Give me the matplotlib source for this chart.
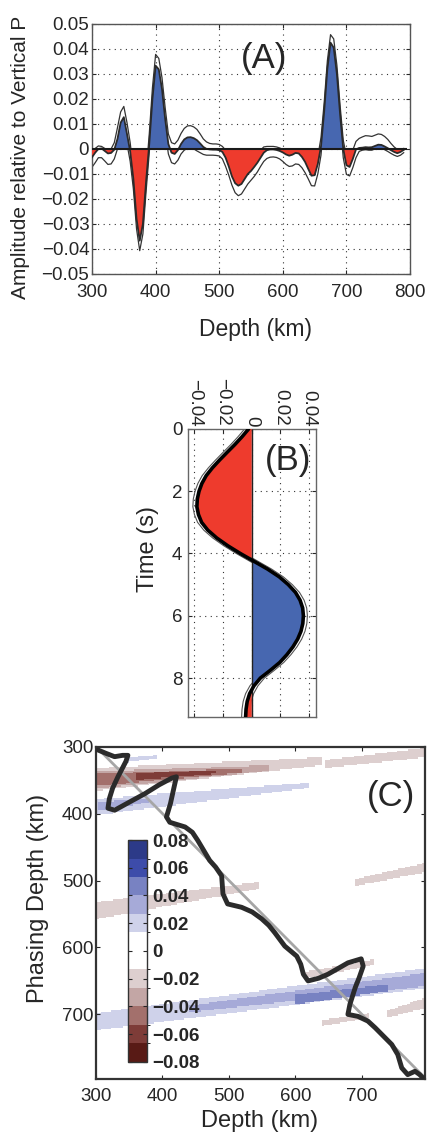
import numpy as np
import matplotlib
matplotlib.use("Agg")
import matplotlib.pyplot as plt
from matplotlib.colors import ListedColormap, BoundaryNorm
from matplotlib.ticker import FuncFormatter

plt.rcParams['font.family'] = ['Liberation Sans', 'DejaVu Sans']

RED = '#EE3B2D'
BLUE = '#4767B0'
TEXT = '#262626'

# ---------------- panel A: receiver function vs depth ----------------
a_depth = np.arange(300, 791, 5)
a_amp = [
    -0.0033, -0.0015, 0.0000, 0.0002, -0.0008, -0.0018, -0.0016, -0.0003, 0.0040, 0.0105,
    0.0127, 0.0060, -0.0010, -0.0120, -0.0280, -0.0367, -0.0300, -0.0130, 0.0020, 0.0200,
    0.0333, 0.0318, 0.0240, 0.0120, 0.0020, -0.0015, -0.0020, -0.0005, 0.0020, 0.0038,
    0.0046, 0.0047, 0.0043, 0.0035, 0.0022, 0.0008, 0.0000, -0.0002, -0.0003, -0.0003,
    -0.0005, -0.0012, -0.0035, -0.0070, -0.0110, -0.0137, -0.0147, -0.0140, -0.0120, -0.0100,
    -0.0088, -0.0072, -0.0055, -0.0035, -0.0015, -0.0005, -0.0002, -0.0002, -0.0004, -0.0008,
    -0.0014, -0.0022, -0.0027, -0.0023, -0.0016, -0.0018, -0.0032, -0.0052, -0.0080, -0.0107,
    -0.0105, -0.0060, 0.0010, 0.0150, 0.0320, 0.0425, 0.0405, 0.0300, 0.0140, 0.0000,
    -0.0065, -0.0072, -0.0040, -0.0002, 0.0004, 0.0005, 0.0007, 0.0006, 0.0007, 0.0012,
    0.0017, 0.0016, 0.0010, 0.0003, -0.0005, -0.0012, -0.0017, -0.0012, -0.0004,
]
a_upper = [
    -0.0013, 0.0002, 0.0012, 0.0010, 0.0002, -0.0005, 0.0000, 0.0025, 0.0085, 0.0148,
    0.0170, 0.0105, 0.0025, -0.0085, -0.0245, -0.0330, -0.0265, -0.0095, 0.0060, 0.0245,
    0.0378, 0.0362, 0.0285, 0.0165, 0.0060, 0.0025, 0.0020, 0.0035, 0.0062, 0.0082,
    0.0092, 0.0093, 0.0088, 0.0078, 0.0060, 0.0040, 0.0028, 0.0022, 0.0020, 0.0020,
    0.0018, 0.0010, -0.0005, -0.0035, -0.0075, -0.0100, -0.0110, -0.0105, -0.0085, -0.0065,
    -0.0052, -0.0038, -0.0022, -0.0005, 0.0008, 0.0010, 0.0010, 0.0010, 0.0008, 0.0004,
    -0.0002, -0.0008, -0.0012, -0.0010, -0.0004, -0.0006, -0.0016, -0.0030, -0.0050, -0.0075,
    -0.0075, -0.0030, 0.0045, 0.0185, 0.0352, 0.0457, 0.0440, 0.0335, 0.0175, 0.0035,
    -0.0030, -0.0038, -0.0005, 0.0030, 0.0042, 0.0048, 0.0053, 0.0052, 0.0050, 0.0055,
    0.0060, 0.0058, 0.0050, 0.0038, 0.0022, 0.0008, -0.0002, -0.0002, 0.0002,
]
a_lower = [
    -0.0073, -0.0055, -0.0035, -0.0035, -0.0048, -0.0062, -0.0060, -0.0040, 0.0000, 0.0062,
    0.0087, 0.0020, -0.0050, -0.0160, -0.0320, -0.0407, -0.0340, -0.0170, -0.0015, 0.0160,
    0.0290, 0.0278, 0.0200, 0.0080, -0.0020, -0.0055, -0.0060, -0.0045, -0.0020, -0.0005,
    0.0002, 0.0003, 0.0000, -0.0008, -0.0015, -0.0022, -0.0025, -0.0025, -0.0025, -0.0026,
    -0.0028, -0.0040, -0.0070, -0.0105, -0.0145, -0.0175, -0.0187, -0.0180, -0.0160, -0.0140,
    -0.0125, -0.0110, -0.0092, -0.0070, -0.0050, -0.0038, -0.0033, -0.0032, -0.0034, -0.0040,
    -0.0050, -0.0062, -0.0070, -0.0068, -0.0060, -0.0062, -0.0075, -0.0095, -0.0120, -0.0147,
    -0.0148, -0.0100, -0.0025, 0.0115, 0.0285, 0.0390, 0.0372, 0.0265, 0.0105, -0.0035,
    -0.0102, -0.0108, -0.0075, -0.0035, -0.0010, -0.0005, -0.0003, -0.0005, -0.0005, 0.0000,
    0.0003, 0.0002, -0.0003, -0.0010, -0.0018, -0.0025, -0.0030, -0.0025, -0.0015,
]

# ---------------- panel B: wavelet vs time ----------------
b_time = np.arange(0, 9.26, 0.25)
b_amp = [
    -0.0022, -0.0068, -0.0118, -0.0172, -0.0225, -0.0275, -0.0318, -0.0348, -0.0368, -0.0380,
    -0.0383, -0.0372, -0.0350, -0.0307, -0.0245, -0.0168, -0.0080, 0.0015, 0.0110, 0.0192,
    0.0255, 0.0305, 0.0337, 0.0355, 0.0360, 0.0356, 0.0343, 0.0320, 0.0287, 0.0245,
    0.0195, 0.0130, 0.0060, 0.0015, -0.0015, -0.0032, -0.0040, -0.0043,
]
b_err = 0.0028

# ---------------- panel C: phasing depth map ----------------
c_curve_x = [303, 315, 328, 340, 348, 345, 333, 325, 320, 318, 328, 350, 374, 395, 414, 421,
             418, 412, 406, 411, 434, 445, 453, 462, 471, 480, 489, 491, 498, 519, 535, 549,
             560, 569, 584, 602, 608, 612, 619, 635, 649, 665, 679, 699, 702, 696, 690, 682,
             679, 694, 709, 720, 730, 745, 754, 760, 769, 780, 787, 795]
c_curve_y = [305, 310, 315, 313, 313, 322, 345, 362, 378, 392, 395, 383, 370, 357, 347, 345,
             358, 385, 405, 413, 420, 428, 440, 455, 470, 480, 493, 520, 535, 540, 547, 557,
             567, 578, 598, 613, 625, 640, 650, 646, 640, 631, 623, 617, 628, 645, 660, 685,
             700, 703, 710, 720, 730, 745, 760, 780, 790, 785, 790, 798]
# streaks: (depth0, phase0, depth1, phase1, width0, width1, value)
c_streaks = [
    (300, 349, 640, 322, 34, 12, -0.02),
    (300, 350, 560, 332, 26, 8, -0.033),
    (300, 350, 520, 336, 18, 6, -0.047),
    (360, 345, 480, 338, 10, 5, -0.06),
    (645, 326, 795, 309, 12, 14, -0.02),
    (345, 320, 392, 315, 7, 5, 0.02),
    (300, 390, 620, 358, 24, 8, 0.02),
    (303, 389, 380, 380, 12, 6, 0.033),
    (300, 545, 545, 507, 26, 10, -0.02),
    (690, 503, 795, 481, 10, 14, -0.02),
    (300, 711, 795, 646, 26, 30, 0.02),
    (440, 692, 795, 648, 10, 20, 0.033),
    (600, 678, 740, 660, 14, 10, 0.047),
    (615, 641, 718, 622, 10, 8, -0.02),
    (640, 713, 710, 702, 9, 7, -0.02),
    (738, 700, 795, 683, 10, 16, -0.02),
]
cb_levels = np.linspace(-0.08, 0.08, 13)
cb_colors = ['#581A15', '#7E3C38', '#A3706C', '#C3A6A5', '#DDCFCF', '#FFFFFF',
             '#FFFFFF', '#CFD2EA', '#A6AAD8', '#7882C2', '#3D4CAA', '#2C3A88']
cb_ticks = [-0.08, -0.06, -0.04, -0.02, 0, 0.02, 0.04, 0.06, 0.08]


def amp_fmt(v, pos=None):
    if abs(v) < 1e-9:
        return '0'
    return f'{v:.2f}'.replace('-', '\u2212')


def style_axes(ax, spine_color, spine_lw):
    for s in ax.spines.values():
        s.set_color(spine_color)
        s.set_linewidth(spine_lw)
    ax.tick_params(which='both', direction='in', length=3, colors=TEXT,
                   labelsize=13.5, top=True, right=True)


grid_kw = dict(color='#333333', linewidth=0.8, linestyle=(0, (1, 4)))

fig = plt.figure(figsize=(4.29, 11.33), dpi=100)

# ---- A ----
ax_a = fig.add_axes([0.2145, 0.7582, 0.7413, 0.2207])
ax_a.plot(a_depth, a_upper, color='#333333', lw=0.9, zorder=2)
ax_a.plot(a_depth, a_lower, color='#333333', lw=0.9, zorder=2)
amp = np.array(a_amp)
ax_a.fill_between(a_depth, amp, 0, where=amp >= 0, interpolate=True, color=BLUE, lw=0, zorder=3)
ax_a.fill_between(a_depth, amp, 0, where=amp <= 0, interpolate=True, color=RED, lw=0, zorder=3)
ax_a.plot(a_depth, amp, color='#2a2a2a', lw=1.3, zorder=4)
ax_a.hlines(0, a_depth[0], 796, color='#1a1a1a', lw=1.5, zorder=5)
ax_a.set_xlim(300, 800)
ax_a.set_ylim(-0.05, 0.05)
ax_a.set_xticks(np.arange(300, 801, 100))
ax_a.set_yticks(np.linspace(-0.05, 0.05, 11))
ax_a.yaxis.set_major_formatter(FuncFormatter(amp_fmt))
style_axes(ax_a, '#555555', 1.0)
ax_a.tick_params(axis='y', pad=2)
ax_a.tick_params(axis='x', pad=7)
ax_a.grid(True, **grid_kw)
ax_a.set_axisbelow(True)
ax_a.text(570, 0.0362, '(A)', fontsize=25, color=TEXT, ha='center', va='center')
ax_a.set_xlabel('Depth (km)', fontsize=16.5, color=TEXT, va='center')
ax_a.xaxis.set_label_coords(0.513, -0.224)
ax_a.set_ylabel('Amplitude relative to Vertical P', fontsize=15, color=TEXT, va='center')
ax_a.yaxis.set_label_coords(-0.226, 0.466)

# ---- B ----
ax_b = fig.add_axes([0.4382, 0.3672, 0.2984, 0.2542])
bamp = np.array(b_amp)
ax_b.plot(bamp + b_err, b_time, color='#555555', lw=0.8, zorder=2)
ax_b.plot(bamp - b_err, b_time, color='#555555', lw=0.8, zorder=2)
ax_b.fill_betweenx(b_time, bamp, 0, where=bamp <= 0, interpolate=True, color=RED, lw=0, zorder=3)
ax_b.fill_betweenx(b_time, bamp, 0, where=bamp >= 0, interpolate=True, color=BLUE, lw=0, zorder=3)
ax_b.vlines(0, b_time[0], b_time[-1], color='#222222', lw=1.0, zorder=4)
ax_b.plot(bamp, b_time, color='black', lw=2.6, zorder=5, solid_capstyle='round')
ax_b.set_xlim(-0.0445, 0.0448)
ax_b.set_ylim(9.25, 0)
ax_b.set_xticks([-0.04, -0.02, 0, 0.02, 0.04])
ax_b.set_yticks([0, 2, 4, 6, 8])
ax_b.xaxis.set_major_formatter(FuncFormatter(amp_fmt))
style_axes(ax_b, '#666666', 1.0)
ax_b.xaxis.tick_top()
ax_b.tick_params(axis='x', labelrotation=-90, pad=2, bottom=True, top=True)
ax_b.tick_params(axis='y', pad=4)
ax_b.grid(True, **grid_kw)
ax_b.set_axisbelow(True)
ax_b.text(0.025, 1.0, '(B)', fontsize=25, color=TEXT, ha='center', va='center')
ax_b.set_ylabel('Time (s)', fontsize=17, color=TEXT, va='center')
ax_b.yaxis.set_label_coords(-0.3125, 0.583)

# ---- C ----
ax_c = fig.add_axes([0.2238, 0.0474, 0.7669, 0.2936])
c_xe = np.arange(300, 800, 2.5)
c_ye = np.arange(300, 800, 2)
xc = (c_xe[:-1] + c_xe[1:]) / 2
yc = (c_ye[:-1] + c_ye[1:]) / 2
X, Y = np.meshgrid(xc, yc)
field = np.zeros_like(X, dtype=float)
for x0, y0, x1, y1, w0, w1, v in c_streaks:
    f = (X - x0) / (x1 - x0)
    ym = y0 + f * (y1 - y0)
    w = w0 + f * (w1 - w0)
    m = (f >= 0) & (f <= 1) & (np.abs(Y - ym) <= w / 2) & (abs(v) > np.abs(field))
    field[m] = v
cmap = ListedColormap(cb_colors)
norm = BoundaryNorm(cb_levels, cmap.N)
mesh = ax_c.pcolormesh(c_xe, c_ye, field, cmap=cmap, norm=norm, zorder=1)
ax_c.plot([300, 796], [300, 796], color='#A6A6A6', lw=2.0, zorder=2)
ax_c.plot(c_curve_x, c_curve_y, color='#2b2b2b', lw=3.5, zorder=3,
          solid_joinstyle='round', solid_capstyle='round')
ax_c.set_xlim(300, 795)
ax_c.set_ylim(797, 300)
ax_c.set_xticks([300, 400, 500, 600, 700])
ax_c.set_yticks([300, 400, 500, 600, 700])
style_axes(ax_c, '#333333', 1.6)
ax_c.tick_params(axis='y', pad=2)
ax_c.tick_params(axis='x', pad=6)
ax_c.text(744, 374, '(C)', fontsize=25, color=TEXT, ha='center', va='center')
ax_c.set_xlabel('Depth (km)', fontsize=17, color=TEXT, va='center')
ax_c.xaxis.set_label_coords(0.497, -0.125)
ax_c.set_ylabel('Phasing Depth (km)', fontsize=17, color=TEXT, va='center')
ax_c.yaxis.set_label_coords(-0.176, 0.545)

cax = fig.add_axes([0.2984, 0.0627, 0.0443, 0.1959])
cb = fig.colorbar(mesh, cax=cax, ticks=cb_ticks, format=FuncFormatter(amp_fmt))
cb.outline.set_edgecolor('#333333')
cb.outline.set_linewidth(1.0)
cb.ax.tick_params(direction='in', length=3, left=True, right=True, colors=TEXT,
                  labelsize=13.5, pad=4)
for lab in cb.ax.get_yticklabels():
    lab.set_fontweight('bold')

fig.savefig('out.png', dpi=100)
